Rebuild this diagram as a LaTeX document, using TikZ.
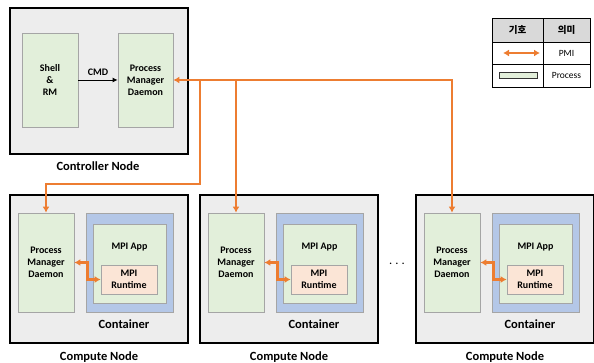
\documentclass[tikz,border=0pt]{standalone}
\usepackage{fontspec}
\setmainfont{Carlito}
\newfontfamily\krfont{Noto Sans CJK KR}
\usetikzlibrary{arrows.meta,calc}
\definecolor{hostgray}{HTML}{EDEDED}
\definecolor{procgreen}{HTML}{E2EFDA}
\definecolor{contblue}{HTML}{B4C7E7}
\definecolor{rtpeach}{HTML}{FBE5D6}
\definecolor{pmiorange}{HTML}{ED7D31}
\definecolor{boxline}{HTML}{A5A5A5}
\definecolor{headgray}{HTML}{D9D9D9}
\tikzset{
  sz/.style 2 args={minimum width=#1pt,minimum height=#2pt},
  hostbox/.style={draw=black,line width=2pt,fill=hostgray,inner sep=0pt},
  procbox/.style={draw=boxline,line width=0.8pt,fill=procgreen,inner sep=0pt,
    align=center,font=\bfseries\fontsize{10}{12}\selectfont},
  contbox/.style={draw=boxline,line width=0.8pt,fill=contblue,inner sep=0pt},
  rtbox/.style={draw=boxline,line width=0.8pt,fill=rtpeach,inner sep=0pt,
    align=center,font=\bfseries\fontsize{10}{12}\selectfont},
  smalllbl/.style={font=\bfseries\fontsize{10}{12}\selectfont},
  biglbl/.style={font=\bfseries\fontsize{12.5}{14}\selectfont},
  cell/.style={draw=black,line width=0.8pt,inner sep=0pt,font=\fontsize{9.5}{11}\selectfont},
  pmi/.style={draw=pmiorange,line width=2.2pt,
    >={Latex[length=6pt,width=7pt]}},
}
\begin{document}
\begin{tikzpicture}[x=1pt,y=-1pt]
  \useasboundingbox (0,0) rectangle (594,363);
  \node[hostbox,sz={178}{146}] (ctrl) at (99,81) {};
  \node[procbox,sz={56}{94}] (shell) at (50,80) {Shell\\\&\\RM};
  \node[procbox,sz={55}{94}] (cpmd) at (145.5,80) {Process\\Manager\\Daemon};
  \draw[-{Latex[length=5pt,width=5pt]},line width=0.9pt] (shell) -- node[smalllbl,above=1pt]{CMD} (cpmd);
  \node[biglbl] (ctrllbl) at (98,166) {Controller Node};
  \foreach \i/\dx in {1/0,2/190,3/406}{
    \node[hostbox,sz={178}{148}] (host\i) at (99+\dx,269) {};
    \node[procbox,sz={56}{99}] (pmd\i) at (46+\dx,262.5) {Process\\Manager\\Daemon};
    \node[contbox,sz={87}{99}] (cont\i) at (129.5+\dx,262.5) {};
    \node[procbox,sz={73}{79}] (app\i) at (129.5+\dx,263.5) {};
    \node[smalllbl] (applbl\i) at (129.5+\dx,247) {MPI App};
    \node[rtbox,sz={56}{29}] (rt\i) at (129+\dx,279.5) {MPI\\Runtime};
    \node[biglbl] (contlbl\i) at (124+\dx,324) {Container};
    \node[biglbl] (hostlbl\i) at (99+\dx,357) {Compute Node};
    \draw[pmi,<->] (pmd\i.east) -- ++(13,0) |- (rt\i.west);
  }
  \node[font=\bfseries\fontsize{10}{12}\selectfont] (dots) at (397,264) {.\hspace{3.5pt}.\hspace{3.5pt}.};
  \begin{scope}[pmi]
    \draw[<->] (cpmd.east) -| (pmd3.north);
    \draw[->] (cpmd.east -| pmd2.north) -- (pmd2.north);
    \coordinate (split) at (200,184);
    \draw[->] (split |- cpmd.east) -- (split) -| (pmd1.north);
  \end{scope}
  \node[cell,fill=headgray,sz={51}{24}] (k1) at (517.5,30) {\krfont\bfseries 기호};
  \node[cell,fill=headgray,sz={47}{24}] (k2) at (566.5,30) {\krfont\bfseries 의미};
  \node[cell,sz={51}{22}] (r1) at (517.5,53) {};
  \node[cell,sz={47}{22}] (m1) at (566.5,53) {PMI};
  \node[cell,sz={51}{23}] (r2) at (517.5,75.5) {};
  \node[cell,sz={47}{23}] (m2) at (566.5,75.5) {Process};
  \coordinate (pa) at (503,53);
  \coordinate (pb) at (540,53);
  \draw[pmi,<->] (pa) -- (pb);
  \node[draw=black!80,line width=0.8pt,fill=procgreen,inner sep=0pt,sz={38}{6}] (lp) at (518,75) {};
\end{tikzpicture}
\end{document}
